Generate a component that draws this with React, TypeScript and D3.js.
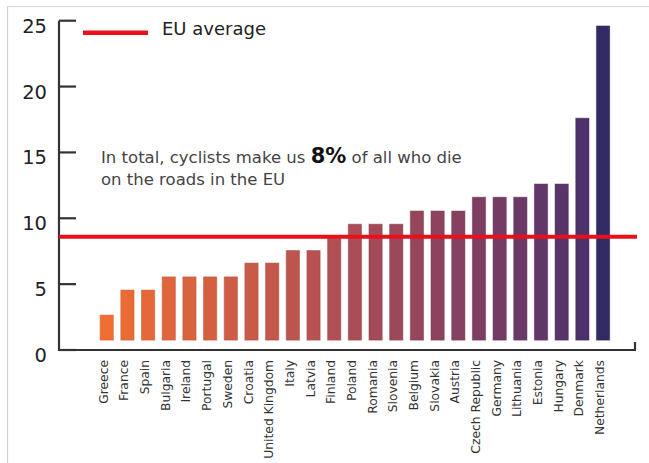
import React from "react";
import * as d3 from "d3";

const countries = [
  "Greece", "France", "Spain", "Bulgaria", "Ireland", "Portugal", "Sweden",
  "Croatia", "United Kingdom", "Italy", "Latvia", "Finland", "Poland", "Romania",
  "Slovenia", "Belgium", "Slovakia", "Austria", "Czech Republic", "Germany",
  "Lithuania", "Estonia", "Hungary", "Denmark", "Netherlands",
];
const values = [
  2.65, 4.55, 4.55, 5.55, 5.55, 5.55, 5.55, 6.6, 6.6, 7.55, 7.55, 8.55, 9.55,
  9.55, 9.55, 10.55, 10.55, 10.55, 11.6, 11.6, 11.6, 12.6, 12.6, 17.6, 24.6,
];
const barBase = 0.75;
const euAverage = 8.6;
const yTicks = [0, 5, 10, 15, 20, 25];
const colorStopIdx = [0, 11, 17, 21, 23, 24];
const colorStops = ["#f06e32", "#b24f55", "#864060", "#623668", "#4d316a", "#322a62"];

const W = 649;
const H = 463;

export default function App() {
  const y = d3.scaleLinear().domain([0, 25]).range([350, 20.7]);
  const x = d3
    .scaleBand<string>()
    .domain(countries)
    .range([96.4, 613.4])
    .paddingInner(0.36)
    .paddingOuter(0.18);
  const color = d3
    .scaleLinear<string>()
    .domain(colorStopIdx)
    .range(colorStops)
    .interpolate(d3.interpolateRgb);
  const axisX0 = 59;
  const axisX1 = 636;
  const font = "'DejaVu Sans', sans-serif";

  return (
    <svg
      width={W}
      height={H}
      style={{ position: "absolute", left: 0, top: 0, background: "#fff" }}
      fontFamily={font}
    >
      <line x1={7} x2={W} y1={6.5} y2={6.5} stroke="#d4d4d4" strokeWidth={1.2} />
      <line x1={7.5} x2={7.5} y1={6} y2={H} stroke="#d4d4d4" strokeWidth={1.2} />

      {countries.map((c, i) => (
        <rect
          key={c}
          x={x(c)}
          width={x.bandwidth()}
          y={y(values[i])}
          height={y(barBase) - y(values[i])}
          fill={color(i)}
          stroke={d3.color(color(i))!.darker(0.4).toString()}
          strokeOpacity={0.5}
          strokeWidth={1}
        />
      ))}

      {/* y axis */}
      <line x1={axisX0} x2={axisX0} y1={y(25)} y2={y(0) + 1} stroke="#333" strokeWidth={2.2} />
      {yTicks.map((t) => (
        <g key={t}>
          <line x1={axisX0} x2={axisX0 + 17} y1={y(t)} y2={y(t)} stroke="#333" strokeWidth={2.2} />
          <text x={47} y={y(t) + 12} textAnchor="end" fontSize={19.5} fill="#222">
            {t}
          </text>
        </g>
      ))}
      {/* x axis */}
      <line x1={axisX0 - 1} x2={axisX1} y1={y(0)} y2={y(0)} stroke="#333" strokeWidth={2.2} />
      <line x1={axisX1 - 1} x2={axisX1 - 1} y1={y(0)} y2={y(0) - 8} stroke="#333" strokeWidth={2.2} />

      {countries.map((c) => {
        const cx = (x(c) as number) + x.bandwidth() / 2 + 1;
        return (
          <text
            key={c}
            transform={`translate(${cx},${360}) rotate(-90)`}
            textAnchor="end"
            fontSize={12.3}
            fill="#333"
          >
            {c}
          </text>
        );
      })}

      {/* EU average line */}
      <line
        x1={axisX0}
        x2={axisX1 + 1}
        y1={y(euAverage)}
        y2={y(euAverage)}
        stroke="#e8111b"
        strokeWidth={4}
      />

      {/* legend */}
      <line x1={83} x2={148} y1={32.7} y2={32.7} stroke="#e8111b" strokeWidth={4.5} />
      <text x={162} y={35} fontSize={18} fill="#222">
        EU average
      </text>

      {/* annotation */}
      <text x={101} y={163.3} fontSize={16.5} fill="#444">
        In total, cyclists make us{" "}
        <tspan fontWeight="bold" fontSize={21} fill="#111">
          8%
        </tspan>{" "}
        of all who die
      </text>
      <text x={101} y={185} fontSize={16.5} fill="#444">
        on the roads in the EU
      </text>
    </svg>
  );
}
